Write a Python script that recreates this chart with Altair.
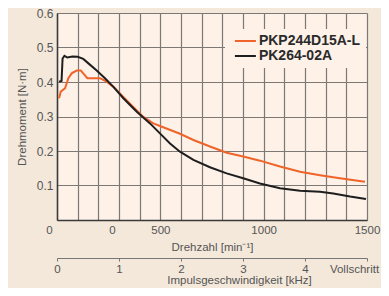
import altair as alt
import pandas as pd

# --- data ---
series_names = ["PKP244D15A-L", "PK264-02A"]
series_colors = ["#F0642A", "#1E1E1E"]

rpm_pkp = [10, 18, 39, 55, 71, 95, 115, 127, 147, 176, 208, 240, 273, 321, 369, 418,
           466, 514, 595, 660, 740, 821, 901, 982, 1079, 1176, 1273, 1369, 1490]
torque_pkp = [0.353, 0.372, 0.382, 0.411, 0.425, 0.433, 0.433, 0.425, 0.411, 0.411, 0.411,
              0.401, 0.386, 0.357, 0.328, 0.299, 0.280, 0.269, 0.250, 0.232, 0.213, 0.195,
              0.184, 0.172, 0.155, 0.140, 0.130, 0.121, 0.111]

rpm_pk = [10, 22, 27, 36, 50, 75, 100, 127, 152, 192, 232, 273, 321, 386, 450, 498, 547,
          595, 660, 740, 821, 901, 982, 1079, 1176, 1273, 1337, 1418, 1495]
torque_pk = [0.401, 0.403, 0.468, 0.476, 0.471, 0.474, 0.473, 0.467, 0.454, 0.433, 0.411,
             0.386, 0.353, 0.314, 0.280, 0.251, 0.222, 0.198, 0.174, 0.153, 0.135, 0.121,
             0.106, 0.092, 0.085, 0.082, 0.077, 0.068, 0.061]

y_ticks = [0, 0.1, 0.2, 0.3, 0.4, 0.5, 0.6]
x_grid = [0, 100, 200, 300, 400, 500, 600, 700, 800, 900, 1000, 1100, 1200, 1300, 1400, 1500]
khz_ticks = [0, 1, 2, 3, 4, 5]

df = pd.concat([
    pd.DataFrame({"rpm": rpm_pkp, "torque": torque_pkp, "series": series_names[0]}),
    pd.DataFrame({"rpm": rpm_pk, "torque": torque_pk, "series": series_names[1]}),
])
khz_df = pd.DataFrame({"khz": khz_ticks})

FONT = "Liberation Sans Narrow, Liberation Sans, sans-serif"
TXT = "#555555"
GRID = "#7d7873"

lines = alt.Chart(df).mark_line(strokeWidth=2).encode(
    x=alt.X("rpm:Q",
            scale=alt.Scale(domain=[0, 1500], nice=False, zero=False),
            axis=alt.Axis(values=x_grid, format="d", ticks=False,
                          labelExpr="(datum.value == 0 || datum.value == 300) ? '0' : "
                                    "(datum.value == 500 || datum.value == 1000 || datum.value == 1500) ? datum.label : ''",
                          labelOffset={"condition": [{"test": "datum.value == 0", "value": -8},
                                                     {"test": "datum.value == 300", "value": -7}],
                                       "value": 0},
                          labelFlush=False, labelOverlap=False, labelPadding=4,
                          labelFont=FONT, labelFontSize=11.5, labelColor=TXT,
                          title="Drehzahl [min⁻¹]", titleFont=FONT, titleFontSize=11.5,
                          titleFontWeight="normal", titleColor=TXT, titlePadding=6,
                          grid=True, gridColor=GRID, gridWidth=1.2,
                          domainColor="#3a3a3a", domainWidth=1.5)),
    y=alt.Y("torque:Q",
            scale=alt.Scale(domain=[0, 0.6], nice=False),
            axis=alt.Axis(values=y_ticks, ticks=False,
                          labelExpr="datum.value == 0 ? '' : format(datum.value, '.1f')",
                          labelPadding=4, labelFont=FONT, labelFontSize=12, labelColor=TXT,
                          title="Drehmoment [N·m]", titleFont=FONT, titleFontSize=11.5,
                          titleFontWeight="normal", titleColor=TXT, titlePadding=9,
                          grid=True, gridColor=GRID, gridWidth=1.2,
                          domainColor="#3a3a3a", domainWidth=1.5)),
    color=alt.Color("series:N",
                    scale=alt.Scale(domain=series_names, range=series_colors),
                    legend=alt.Legend(title=None, orient="none", legendX=168, legendY=16,
                                      fillColor="#FDF1E8", padding=5, rowPadding=1,
                                      symbolType="M-5,0H5", symbolSize=17.6,
                                      symbolStrokeWidth=2, symbolOffset=8.4,
                                      labelFont="Liberation Sans", labelFontSize=14,
                                      labelFontWeight="bold", labelColor="#2a2a2a",
                                      labelOffset=6.5)),
)

khz = alt.Chart(khz_df).mark_point(opacity=0).encode(
    x=alt.X("khz:Q",
            scale=alt.Scale(domain=[0, 5], nice=False),
            axis=alt.Axis(orient="bottom", offset=38, values=khz_ticks, grid=False,
                          ticks=True, tickSize=3, tickColor="#777777", tickWidth=1,
                          domainColor="#777777", domainWidth=1,
                          labelExpr="datum.value == 5 ? 'Vollschritt' : datum.label",
                          labelOffset={"condition": {"test": "datum.value == 5", "value": -13},
                                       "value": 0},
                          labelFlush=False, labelOverlap=False, labelPadding=2,
                          labelFont=FONT, labelFontSize=11.5, labelColor=TXT,
                          title="Impulsgeschwindigkeit [kHz]", titleX=182,
                          titleFont=FONT, titleFontSize=11.5, titleFontWeight="normal",
                          titleColor=TXT, titlePadding=0)),
)

chart = alt.layer(lines, khz).resolve_scale(x="independent").properties(
    width=310, height=207,
    background="#F3E8DA",
    padding={"left": 49, "top": 5, "right": 14, "bottom": 68},
    autosize=alt.AutoSizeParams(type="none"),
).configure_view(fill="#FDF1E8", stroke=None)

chart.save("out.html", embed_options={"renderer": "svg", "actions": False})
